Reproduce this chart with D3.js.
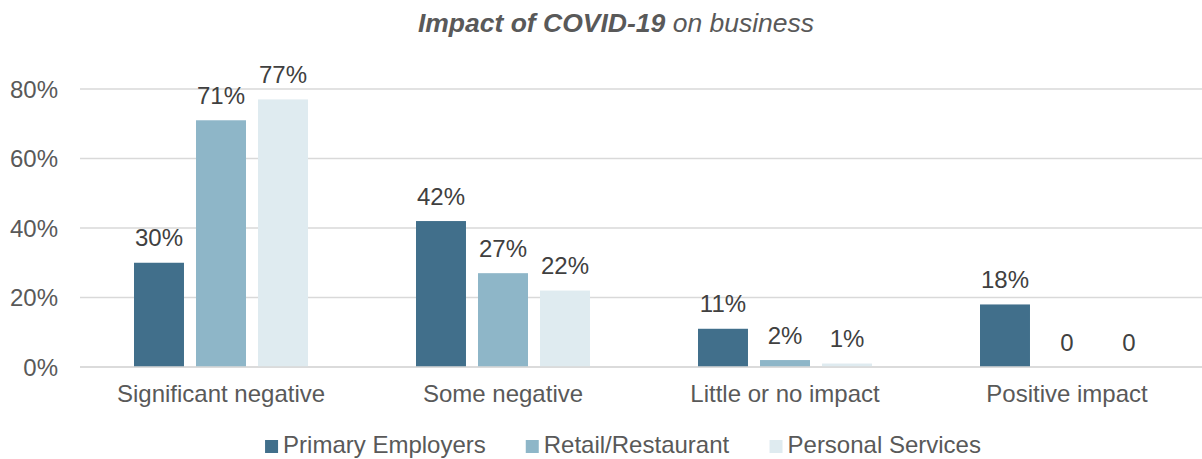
<!DOCTYPE html>
<html>
<head>
<meta charset="utf-8">
<script src="https://cdn.jsdelivr.net/npm/d3@7"></script>
<style>
  html, body { margin: 0; padding: 0; background: #fff; }
  svg { display: block; font-family: "Liberation Sans", Arial, sans-serif; }
</style>
</head>
<body>
<svg id="chart" width="1202" height="459"></svg>
<script>
const categories = ["Significant negative", "Some negative", "Little or no impact", "Positive impact"];
const seriesNames = ["Primary Employers", "Retail/Restaurant", "Personal Services"];
const primaryEmployers = [0.30, 0.42, 0.11, 0.18];
const retailRestaurant = [0.71, 0.27, 0.02, 0];
const personalServices = [0.77, 0.22, 0.01, 0];
const yTicks = [0, 0.2, 0.4, 0.6, 0.8];
const colors = ["#416F8B", "#8EB6C8", "#DFEBF0"];

(function () {
const seriesValues = [primaryEmployers, retailRestaurant, personalServices];

const svg = d3.select("#chart");
const W = 1202;
const plotL = 80, plotR = 1208, plotT = 89, plotB = 367;
const FS = 24;

const x0 = d3.scaleBand().domain(categories).range([plotL, plotR]).paddingInner(0.383).paddingOuter(0.1915);
const x1 = d3.scaleBand().domain(seriesNames).range([0, x0.bandwidth()]).paddingInner(0.194).paddingOuter(0);
const y = d3.scaleLinear().domain([0, 0.8]).range([plotB, plotT]);

// title
const title = svg.append("text")
  .attr("x", 616).attr("y", 32)
  .attr("text-anchor", "middle")
  .attr("font-size", 26.5)
  .attr("font-style", "italic")
  .attr("fill", "#595959");
title.append("tspan").attr("font-weight", "bold").text("Impact of COVID-19");
title.append("tspan").text(" on business");

// gridlines
svg.append("g").selectAll("line").data(yTicks).join("line")
  .attr("x1", plotL).attr("x2", W)
  .attr("y1", d => y(d)).attr("y2", d => y(d))
  .attr("stroke", "#D9D9D9").attr("stroke-width", 1.5);

// y axis labels
const yAxis = d3.axisLeft(y).tickValues(yTicks).tickFormat(d3.format(".0%")).tickSize(0).tickPadding(0);
const gy = svg.append("g").attr("transform", "translate(58,0)").call(yAxis);
gy.select(".domain").remove();
gy.selectAll("text").attr("font-size", FS).attr("fill", "#595959")
  .attr("font-family", "Liberation Sans, Arial, sans-serif").attr("dy", "0.35em");

// bars
const data = [];
categories.forEach((c, i) => {
  seriesNames.forEach((s, j) => {
    data.push({ cat: c, series: s, value: seriesValues[j][i], color: colors[j] });
  });
});

svg.append("g").selectAll("rect").data(data).join("rect")
  .attr("x", d => x0(d.cat) + x1(d.series))
  .attr("width", x1.bandwidth())
  .attr("y", d => y(d.value))
  .attr("height", d => y(0) - y(d.value))
  .attr("fill", d => d.color);

// data labels
svg.append("g").selectAll("text").data(data).join("text")
  .attr("x", d => x0(d.cat) + x1(d.series) + x1.bandwidth() / 2)
  .attr("y", d => y(d.value) - 16.5)
  .attr("text-anchor", "middle")
  .attr("font-size", FS)
  .attr("fill", "#404040")
  .text(d => d.value === 0 ? "0" : d3.format(".0%")(d.value));

// x axis baseline
svg.append("line").attr("x1", plotL).attr("x2", W).attr("y1", y(0)).attr("y2", y(0))
  .attr("stroke", "#D9D9D9").attr("stroke-width", 1.5);

// x axis labels
const xAxis = d3.axisBottom(x0).tickSize(0).tickPadding(0);
const gx = svg.append("g").attr("transform", `translate(0,${plotB})`).call(xAxis);
gx.select(".domain").remove();
gx.selectAll("text").attr("font-size", FS).attr("fill", "#595959")
  .attr("font-family", "Liberation Sans, Arial, sans-serif")
  .attr("dy", null).attr("y", 35);

// legend
const legend = svg.append("g");
const items = legend.selectAll("g").data(seriesNames).join("g");
items.append("rect").attr("width", 13).attr("height", 13).attr("y", -13)
  .attr("fill", (d, i) => colors[i]);
items.append("text").attr("x", 18).attr("y", 0).attr("font-size", FS)
  .attr("fill", "#595959").text(d => d);
const gap = 40;
const widths = items.nodes().map(n => n.getBBox().width);
const total = d3.sum(widths) + gap * (widths.length - 1);
let start = 623 - total / 2;
items.attr("transform", (d, i) => {
  const t = `translate(${start},453)`;
  start += widths[i] + gap;
  return t;
});
})();
</script>
</body>
</html>
